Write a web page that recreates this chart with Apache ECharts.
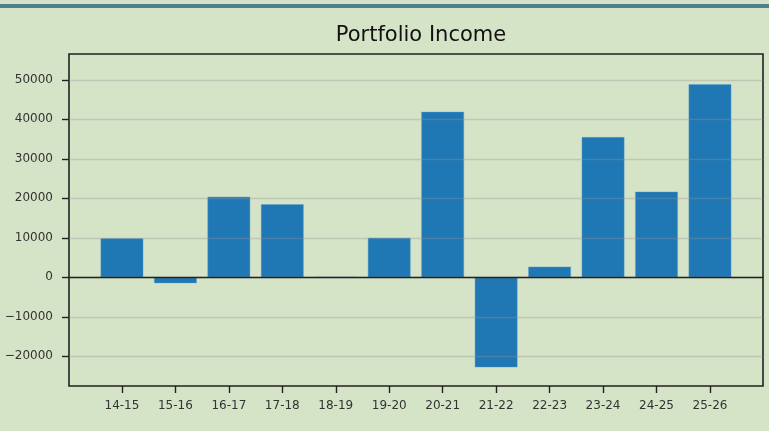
<!DOCTYPE html>
<html>
<head>
<meta charset="utf-8">
<script src="https://cdn.jsdelivr.net/npm/echarts@6/dist/echarts.min.js"></script>
<style>
html,body{margin:0;padding:0;background:#d5e3c7;}
#chart{width:769px;height:431px;}
</style>
</head>
<body>
<div id="chart"></div>
<script>
var categories = ['14-15','15-16','16-17','17-18','18-19','19-20','20-21','21-22','22-23','23-24','24-25','25-26'];
var income = [9900, -1500, 20400, 18500, 0, 10000, 41900, -22800, 2700, 35500, 21700, 48900];
var yTicks = [-20000, -10000, 0, 10000, 20000, 30000, 40000, 50000];
var yMin = -27520, yMax = 56530;

var chart = echarts.init(document.getElementById('chart'), null, {renderer:'canvas'});
var font = 'DejaVu Sans';
chart.setOption({
  backgroundColor: '#d5e3c7',
  animation: false,
  title: {
    text: 'Portfolio Income',
    left: 416, top: 20, textAlign: 'center',
    textStyle: {fontFamily: font, fontSize: 21, fontWeight: 'normal', color: '#111'}
  },
  graphic: [{
    type: 'rect', shape: {x: 0, y: 4, width: 769, height: 4},
    style: {fill: '#4f808b'}, silent: true
  }],
  grid: [
    {left: 69, right: 6, top: 54, bottom: 45, show: true, borderColor: '#222', borderWidth: 1.6, backgroundColor: 'transparent'},
    {left: 95.2, right: 32.3, top: 54, bottom: 45, show: false}
  ],
  xAxis: [
    {type: 'value', gridIndex: 0, min: 0, max: 1, z: 4,
     axisLine: {show: true, onZero: true, lineStyle: {color: '#222', width: 1.4}},
     axisTick: {show: false}, axisLabel: {show: false}, splitLine: {show: false}},
    {type: 'category', gridIndex: 1, data: categories, position: 'bottom',
     axisLine: {show: false, onZero: false},
     axisTick: {show: true, alignWithLabel: true, length: 7, inside: false, lineStyle: {color: '#222', width: 1.4}},
     axisLabel: {fontFamily: font, fontSize: 12, color: '#333', margin: 14}}
  ],
  yAxis: [
    {type: 'value', gridIndex: 0, min: yMin, max: yMax, z: 3,
     axisLine: {show: false},
     axisTick: {show: true, length: 7, customValues: yTicks, lineStyle: {color: '#222', width: 1.4}},
     axisLabel: {fontFamily: font, fontSize: 12, color: '#333', margin: 16, customValues: yTicks,
                 formatter: function(v){ return v < 0 ? '\u2212' + Math.abs(v) : String(v); }},
     splitLine: {show: true, lineStyle: {color: 'rgba(150,150,150,0.35)', width: 1.3}}},
    {type: 'value', gridIndex: 1, min: yMin, max: yMax, show: false, splitLine: {show: false}}
  ],
  series: [{
    type: 'bar', xAxisIndex: 1, yAxisIndex: 1,
    data: income, barWidth: '80%', z: 2,
    itemStyle: {color: '#1f77b4', borderColor: 'rgba(90,160,215,0.7)', borderWidth: 0.6}
  }]
});
</script>
</body>
</html>
